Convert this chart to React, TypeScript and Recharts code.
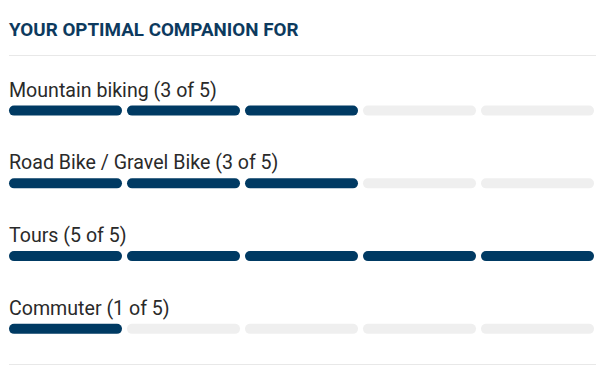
import { Bar, BarChart, LabelList, XAxis, YAxis } from "recharts";

const activities = [
  "Mountain biking",
  "Road Bike / Gravel Bike",
  "Tours",
  "Commuter",
];
const scores = [3, 3, 5, 1];
const maxScore = 5;
const segmentKeys = ["s1", "s2", "s3", "s4", "s5"];

const NAVY = "#003a63";
const GRAY = "#efefef";
const FONT = "Roboto, 'DejaVu Sans', sans-serif";

const data = activities.map((name, i) => {
  const row: Record<string, any> = {
    name,
    score: scores[i],
    label: `${name} (${scores[i]} of ${maxScore})`,
  };
  segmentKeys.forEach((k) => (row[k] = 1));
  return row;
});

// one rounded pill per segment, filled when the score reaches it
const segmentShape = (idx: number) => (props: any) => {
  const { x, y, width, height, payload } = props;
  return (
    <rect
      x={x + 2.5}
      y={y}
      width={Math.max(width - 5, 0)}
      height={height}
      rx={height / 2}
      ry={height / 2}
      fill={payload.score > idx ? NAVY : GRAY}
    />
  );
};

const RowLabel = (props: any) => {
  const { x, y, value } = props;
  return (
    <text
      x={x + 2.5}
      y={y - 9}
      fill="#2a2a2a"
      fontSize={19.6}
      fontFamily={FONT}
    >
      {value}
    </text>
  );
};

export default function App() {
  return (
    <div
      style={{
        position: "absolute",
        left: 0,
        top: 0,
        width: 614,
        height: 369,
        background: "#fff",
        fontFamily: FONT,
      }}
    >
      <div
        style={{
          position: "absolute",
          left: 9,
          top: 19,
          fontSize: 18.8,
          fontWeight: 700,
          color: "#0d3a5e",
          whiteSpace: "nowrap",
        }}
      >
        YOUR OPTIMAL COMPANION FOR
      </div>
      <div
        style={{
          position: "absolute",
          left: 9,
          top: 55,
          width: 587,
          height: 1,
          background: "#e8e8e8",
        }}
      />
      <div
        style={{
          position: "absolute",
          left: 9,
          top: 364,
          width: 587,
          height: 1,
          background: "#e8e8e8",
        }}
      />
      <BarChart
        width={614}
        height={369}
        data={data}
        layout="vertical"
        margin={{ top: 74.6, right: 17.5, bottom: 3.4, left: 6.5 }}
        barSize={10}
        style={{ position: "absolute", left: 0, top: 0 }}
      >
        <XAxis type="number" domain={[0, maxScore]} hide />
        <YAxis type="category" dataKey="name" hide />
        {segmentKeys.map((k, i) => (
          <Bar
            key={k}
            dataKey={k}
            stackId="a"
            isAnimationActive={false}
            shape={segmentShape(i)}
          >
            {i === 0 && <LabelList dataKey="label" content={RowLabel} />}
          </Bar>
        ))}
      </BarChart>
    </div>
  );
}
